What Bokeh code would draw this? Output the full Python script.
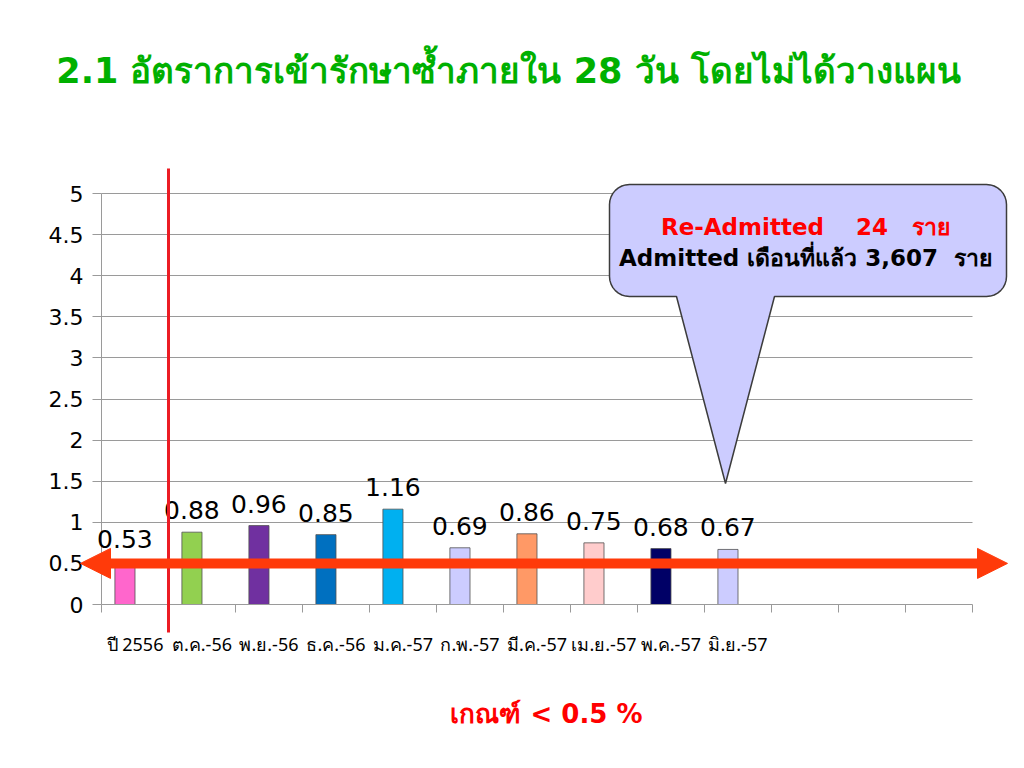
import math
import numpy as np
from bokeh.plotting import figure
from bokeh.models import (Range1d, ColumnDataSource, LabelSet, Label, Arrow, NormalHead,
                          PolyAnnotation, NumeralTickFormatter, SingleIntervalTicker, FixedTicker)
from bokeh.core.properties import value
from bokeh.embed import file_html
from bokeh.resources import INLINE

# ---------------- data ----------------
categories = ["ปี 2556", "ต.ค.-56", "พ.ย.-56", "ธ.ค.-56", "ม.ค.-57", "ก.พ.-57",
              "มี.ค.-57", "เม.ย.-57", "พ.ค.-57", "มิ.ย.-57"]
n_slots = 13   # axis has 13 category slots, last 3 empty
rates = [0.53, 0.88, 0.96, 0.85, 1.16, 0.69, 0.86, 0.75, 0.68, 0.67]
bar_colors = ["#ff66cc", "#92d050", "#7030a0", "#0070c0", "#00b0f0",
              "#ccccff", "#ff9966", "#ffcccc", "#000066", "#ccccff"]
rate_labels = ["%.2f" % v for v in rates]
threshold = 0.5
y_max = 5
y_step = 0.5
title_text = "2.1 อัตราการเข้ารักษาซ้ำภายใน 28 วัน โดยไม่ได้วางแผน"
callout_line1 = "Re-Admitted\u00a0\u00a0\u00a0\u00a024\u00a0\u00a0\u00a0ราย"
callout_line2 = "Admitted เดือนที่แล้ว 3,607\u00a0\u00a0ราย"
criterion_text = "เกณฑ์ < 0.5 %"

# ---------------- layout (pixel geometry) ----------------
W, H = 1008, 752
AX_L, AX_R, AX_T, AX_B = 101, 972, 193, 604   # plot area in px

def dx(px):
    return (px - AX_L) / (AX_R - AX_L) * n_slots

def dy(py):
    return (AX_B - py) / (AX_B - AX_T) * y_max

THAI = "Noto Sans"
NUM = "DejaVu Sans"
GRAY = "#9a9a9a"

p = figure(width=W, height=H, output_backend="svg", toolbar_location=None,
           x_range=Range1d(dx(0), dx(W)), y_range=Range1d(dy(H), dy(0)),
           min_border=0)
p.outline_line_color = None
p.background_fill_color = "white"
p.border_fill_color = "white"

idx = np.arange(len(categories))
centers = idx + 0.5
bar_x = centers - 0.15
src = ColumnDataSource(dict(x=bar_x, rate=rates, color=bar_colors, lbl=rate_labels))

# axes
p.yaxis.fixed_location = 0
p.xaxis.fixed_location = 0
p.yaxis.bounds = (0, y_max)
p.xaxis.bounds = (0, n_slots)

p.yaxis.ticker = SingleIntervalTicker(interval=y_step, num_minor_ticks=0)
p.yaxis.formatter = NumeralTickFormatter(format="0.[0]")
p.yaxis.axis_line_color = GRAY
p.yaxis.major_tick_line_color = GRAY
p.yaxis.major_tick_in = 0
p.yaxis.major_tick_out = 9
p.yaxis.minor_tick_line_color = None
p.yaxis.major_label_text_font = NUM
p.yaxis.major_label_text_font_size = "22px"
p.yaxis.major_label_text_color = "black"
p.yaxis.major_label_standoff = 9

p.xaxis.ticker = FixedTicker(ticks=list(centers), minor_ticks=list(range(n_slots + 1)))
p.xaxis.major_label_overrides = {float(c): lab for c, lab in zip(centers, categories)}
p.xaxis.axis_line_color = GRAY
p.xaxis.major_tick_line_color = None
p.xaxis.major_tick_in = 0
p.xaxis.major_tick_out = 0
p.xaxis.minor_tick_line_color = GRAY
p.xaxis.minor_tick_in = 0
p.xaxis.minor_tick_out = 8
p.xaxis.major_label_text_font = THAI
p.xaxis.major_label_text_font_size = "18px"
p.xaxis.major_label_text_color = "black"
p.xaxis.major_label_standoff = 19

# grid
p.xgrid.grid_line_color = None
p.ygrid.grid_line_color = GRAY
p.ygrid.grid_line_width = 1
p.ygrid.ticker = SingleIntervalTicker(interval=y_step, num_minor_ticks=0)
p.ygrid.bounds = (y_step, y_max)
p.ygrid.cross_bounds = (0, n_slots)

# bars
p.vbar(x="x", top="rate", width=0.3, bottom=0, fill_color="color",
       line_color="#505050", line_width=0.8, source=src)

labels = LabelSet(x="x", y="rate", text="lbl", source=src,
                  y_offset=13, text_align="center", text_baseline="bottom",
                  text_font=value(NUM), text_font_size=value("25px"), text_color="black")
p.add_layout(labels)

# red vertical divider after first category
p.add_layout(Arrow(end=None, start=None, x_start=1, x_end=1, y_start=dy(168), y_end=dy(632),
                   line_color="#ec1c24", line_width=3))

# threshold arrow (both directions)
thr_color = "#ff3a0a"
xa, xb = dx(80), dx(1007)
head = 24
p.add_layout(Arrow(end=None, start=None, x_start=dx(80 + head), x_end=dx(1007 - head),
                   y_start=threshold, y_end=threshold, line_color=thr_color, line_width=10))
p.add_layout(Arrow(start=NormalHead(size=30, fill_color=thr_color, line_color=thr_color),
                   end=NormalHead(size=30, fill_color=thr_color, line_color=thr_color),
                   x_start=xa, x_end=xb, y_start=threshold, y_end=threshold,
                   line_alpha=0))

# callout shape
bx0, bx1, by0, by1, r = 609, 1006, 184, 296, 20
base_l, base_r, tip = 676, 774, (725, 483)
pts = []
def arc(cx, cy, a0, a1, n=8):
    for i in range(n + 1):
        a = math.radians(a0 + (a1 - a0) * i / n)
        pts.append((cx + r * math.cos(a), cy + r * math.sin(a)))
arc(bx0 + r, by0 + r, 180, 270)
arc(bx1 - r, by0 + r, 270, 360)
arc(bx1 - r, by1 - r, 0, 90)
pts.append((base_r, by1))
pts.append(tip)
pts.append((base_l, by1))
arc(bx0 + r, by1 - r, 90, 180)
p.add_layout(PolyAnnotation(xs=[dx(a) for a, b in pts], ys=[dy(b) for a, b in pts],
                            xs_units="data", ys_units="data",
                            fill_color="#ccccff", fill_alpha=1.0,
                            line_color="#3c3c3c", line_alpha=1.0, line_width=1.5))

p.add_layout(Label(x=dx(805), y=dy(226), text=callout_line1, text_align="center",
                   text_baseline="middle", text_font=NUM, text_font_style="bold",
                   text_font_size="23px", text_color="#ff0000"))
p.add_layout(Label(x=dx(805), y=dy(257), text=callout_line2, text_align="center",
                   text_baseline="middle", text_font=NUM, text_font_style="bold",
                   text_font_size="23px", text_color="black"))

# title and criterion
p.add_layout(Label(x=dx(508), y=dy(70), text=title_text, text_align="center",
                   text_baseline="middle", text_font=NUM, text_font_style="bold",
                   text_font_size="35px", text_color="#00b000"))
p.add_layout(Label(x=dx(546), y=dy(713), text=criterion_text, text_align="center",
                   text_baseline="middle", text_font=NUM, text_font_style="bold",
                   text_font_size="26px", text_color="#ff0000"))

open("out.html", "w").write(file_html(p, INLINE))
